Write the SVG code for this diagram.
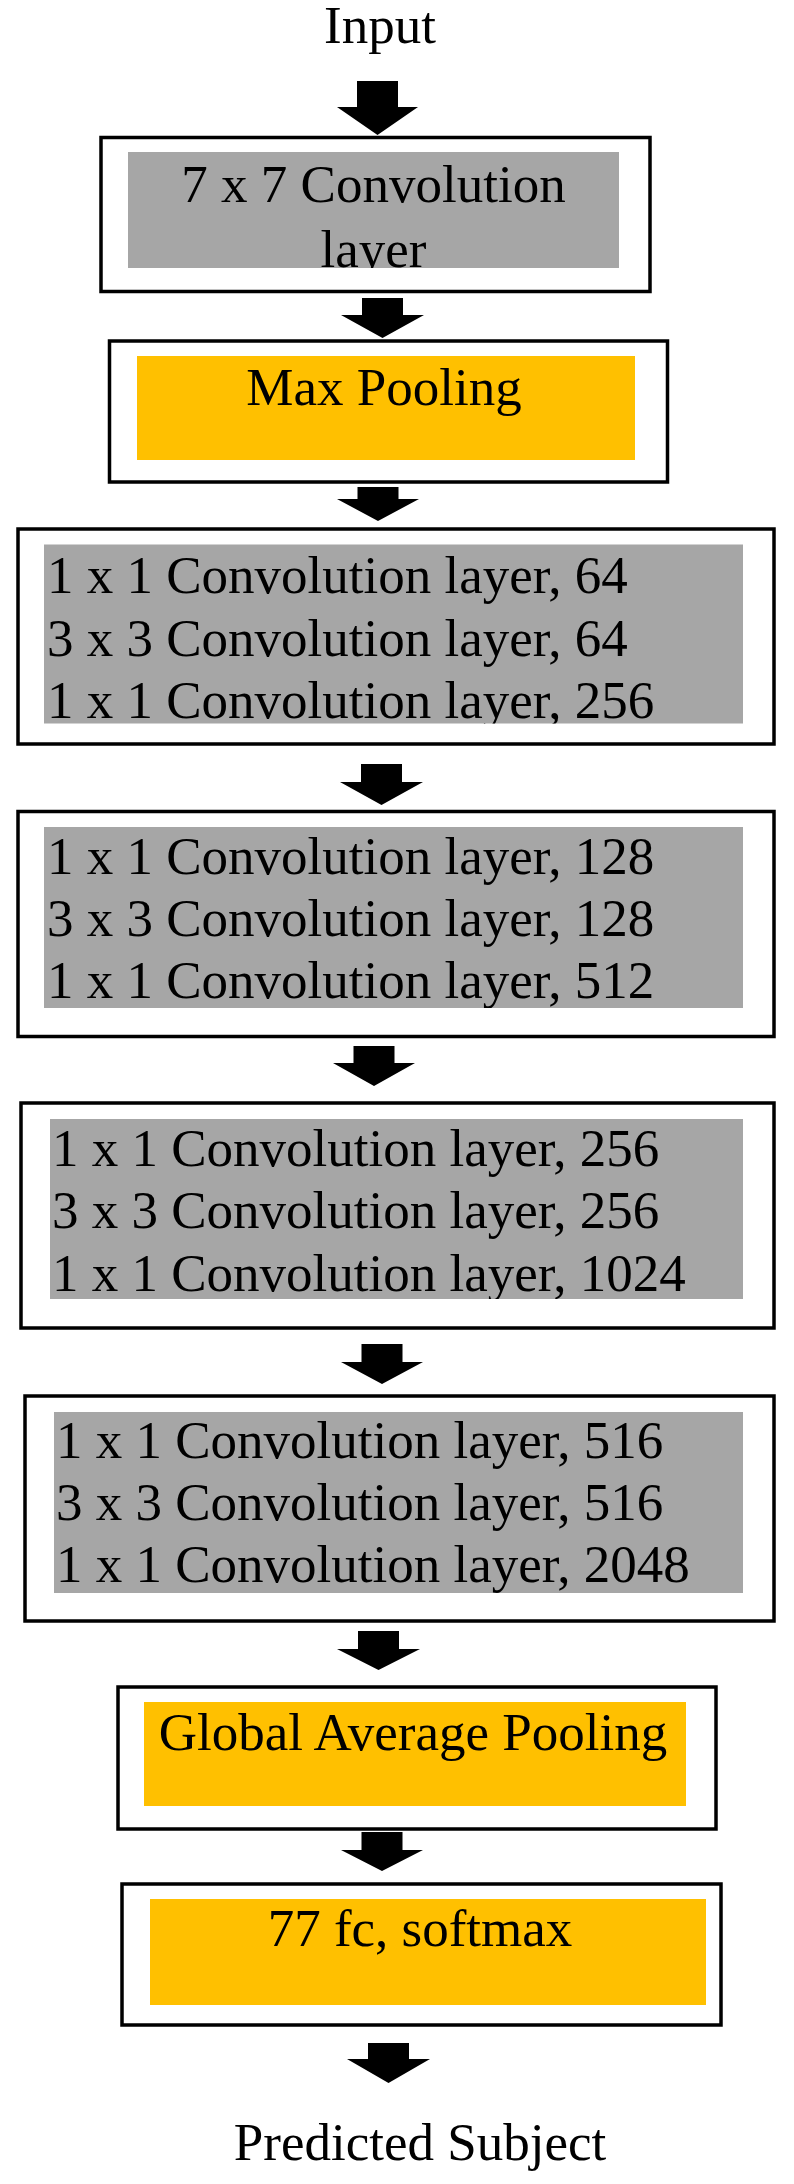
<svg xmlns="http://www.w3.org/2000/svg" width="794" height="2184" viewBox="0 0 794 2184">
<style>
  .outer{fill:#ffffff;stroke:#000000;stroke-width:3.5}
  .gray{fill:#a6a6a6}
  .yellow{fill:#ffc000}
  text{font-family:"Liberation Serif","Times New Roman",serif;font-size:53px;fill:#000000}
  .c{text-anchor:middle}
  .arrow{fill:#000000}
</style>
<defs>
  <clipPath id="clip1"><rect x="128" y="152" width="491" height="116"/></clipPath>
  <clipPath id="clip3"><rect x="44" y="544.5" width="699" height="179"/></clipPath>
  <clipPath id="clip4"><rect x="44" y="827" width="699" height="181"/></clipPath>
  <clipPath id="clip5"><rect x="50" y="1119" width="693" height="180"/></clipPath>
  <clipPath id="clip6"><rect x="54" y="1412" width="689" height="181"/></clipPath>
</defs>
<rect width="794" height="2184" fill="#ffffff"/>

<g id="input-label"><text class="c" x="380" y="43">Input</text></g>

<g id="conv7">
  <rect class="outer" x="101" y="137.5" width="549" height="154"/>
  <rect class="gray" x="128" y="152" width="491" height="116"/>
  <g clip-path="url(#clip1)">
    <text class="c" x="373.5" y="202">7 x 7 Convolution</text>
    <text class="c" x="373.5" y="267">layer</text>
  </g>
</g>

<g id="maxpool">
  <rect class="outer" x="109.5" y="341" width="558" height="141"/>
  <rect class="yellow" x="137" y="356" width="498" height="104"/>
  <text class="c" x="384" y="405">Max Pooling</text>
</g>

<g id="block1">
  <rect class="outer" x="18" y="529" width="756" height="215"/>
  <rect class="gray" x="44" y="544.5" width="699" height="179"/>
  <g clip-path="url(#clip3)">
    <text x="47" y="593">1 x 1 Convolution layer, 64</text>
    <text x="47" y="656">3 x 3 Convolution layer, 64</text>
    <text x="47" y="718">1 x 1 Convolution layer, 256</text>
  </g>
</g>

<g id="block2">
  <rect class="outer" x="18" y="811.5" width="756" height="225"/>
  <rect class="gray" x="44" y="827" width="699" height="181"/>
  <g clip-path="url(#clip4)">
    <text x="47" y="874">1 x 1 Convolution layer, 128</text>
    <text x="47" y="936">3 x 3 Convolution layer, 128</text>
    <text x="47" y="998">1 x 1 Convolution layer, 512</text>
  </g>
</g>

<g id="block3">
  <rect class="outer" x="21" y="1103" width="753" height="225"/>
  <rect class="gray" x="50" y="1119" width="693" height="180"/>
  <g clip-path="url(#clip5)">
    <text x="52" y="1166">1 x 1 Convolution layer, 256</text>
    <text x="52" y="1228">3 x 3 Convolution layer, 256</text>
    <text x="52" y="1291">1 x 1 Convolution layer, 1024</text>
  </g>
</g>

<g id="block4">
  <rect class="outer" x="25" y="1396" width="749" height="225"/>
  <rect class="gray" x="54" y="1412" width="689" height="181"/>
  <g clip-path="url(#clip6)">
    <text x="56" y="1458">1 x 1 Convolution layer, 516</text>
    <text x="56" y="1520">3 x 3 Convolution layer, 516</text>
    <text x="56" y="1582">1 x 1 Convolution layer, 2048</text>
  </g>
</g>

<g id="gap">
  <rect class="outer" x="118" y="1687" width="598" height="142"/>
  <rect class="yellow" x="144" y="1702" width="542" height="104"/>
  <text class="c" x="413" y="1750">Global Average Pooling</text>
</g>

<g id="fc">
  <rect class="outer" x="122" y="1884" width="599" height="141"/>
  <rect class="yellow" x="150" y="1899" width="556" height="106"/>
  <text class="c" x="420" y="1946">77 fc, softmax</text>
</g>

<g id="output-label"><text class="c" x="420" y="2160">Predicted Subject</text></g>

<g id="connectors">
  <path class="arrow" d="M357,81 H398 V107 H418 L377.5,135 L337,107 H357 Z"/>
  <path class="arrow" d="M362,298 H403 V315 H424 L382.5,338 L341,315 H362 Z"/>
  <path class="arrow" d="M357.5,487 H398.5 V499 H419 L378,521 L337,499 H357.5 Z"/>
  <path class="arrow" d="M361,764 H402 V782 H423 L381.5,805 L340,782 H361 Z"/>
  <path class="arrow" d="M353.5,1046 H394.5 V1063 H415 L374,1086 L333,1063 H353.5 Z"/>
  <path class="arrow" d="M361.5,1344 H402.5 V1362 H423 L382,1384 L341,1362 H361.5 Z"/>
  <path class="arrow" d="M358,1631 H399 V1649 H420 L378.5,1670 L337,1649 H358 Z"/>
  <path class="arrow" d="M361.5,1832 H402.5 V1850 H423 L382,1871 L341,1850 H361.5 Z"/>
  <path class="arrow" d="M368,2043 H409 V2059 H430 L388.5,2083 L347,2059 H368 Z"/>
</g>
</svg>
